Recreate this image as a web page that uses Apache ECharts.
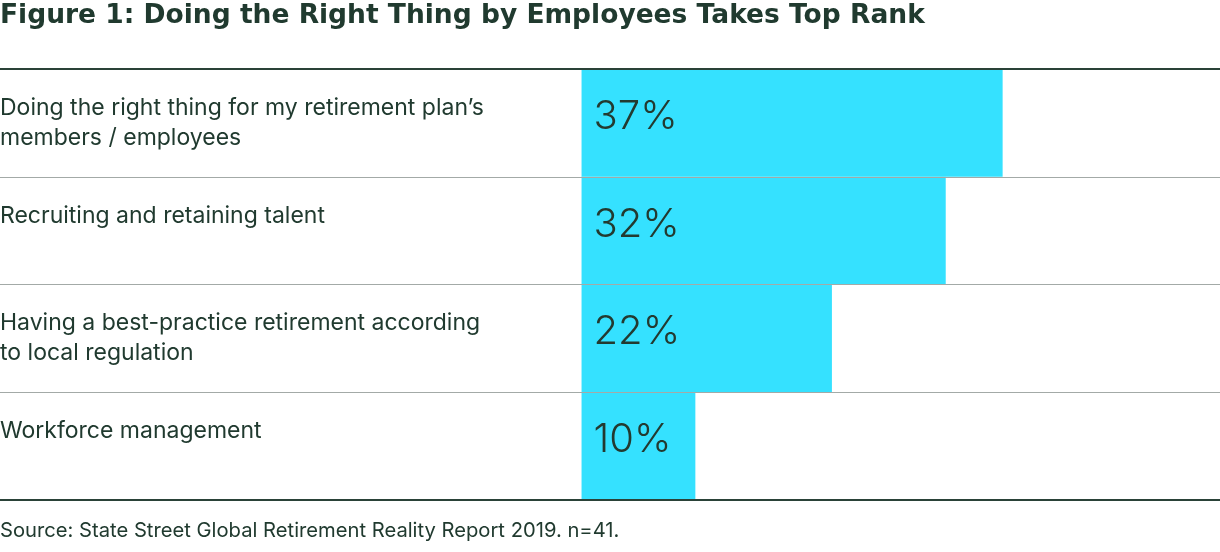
<!DOCTYPE html>
<html><head><meta charset="utf-8">
<script src="https://cdn.jsdelivr.net/npm/echarts@6/dist/echarts.min.js"></script>
<style>html,body{margin:0;padding:0;background:#fff}#c{width:1220px;height:552px}</style>
</head><body><div id="c"></div>
<script>
const categories = [
  "Doing the right thing for my retirement plan’s\nmembers / employees",
  "Recruiting and retaining talent",
  "Having a best-practice retirement according\nto local regulation",
  "Workforce management"
];
const values = [37, 32, 22, 10];
const titleText = "Figure 1: Doing the Right Thing by Employees Takes Top Rank";
const sourceText = "Source: State Street Global Retirement Reality Report 2019. n=41.";

const textColor = "#203a2f";
const chart = echarts.init(document.getElementById('c'), null, {renderer: 'canvas'});
chart.setOption({
  animation: false,
  title: [
    {text: titleText, left: -5, top: -2, textStyle: {fontFamily: 'DejaVu Sans', fontWeight: 'bold', fontSize: 26.5, color: textColor}},
    {text: sourceText, left: -5, top: 516, textStyle: {fontFamily: 'Inter', fontWeight: 'normal', fontSize: 20.2, color: textColor}}
  ],
  grid: {left: 0, right: 0, top: 69, bottom: 52, containLabel: false, outerBoundsMode: 'none'},
  xAxis: [
    {type: 'value', min: -51.1, max: 56.1, position: 'bottom',
     axisLine: {show: true, lineStyle: {color: '#2a4238', width: 2}},
     axisTick: {show: false}, axisLabel: {show: false}, splitLine: {show: false}},
    {type: 'value', min: -51.1, max: 56.1, position: 'top',
     axisLine: {show: true, lineStyle: {color: '#2a4238', width: 2}},
     axisTick: {show: false}, axisLabel: {show: false}, splitLine: {show: false}}
  ],
  yAxis: {
    type: 'category', inverse: true, data: categories,
    axisLine: {show: false}, axisTick: {show: false},
    splitLine: {show: true, lineStyle: {color: '#a3aaa7', width: 1}},
    axisLabel: {
      inside: true, margin: 0, align: 'left', verticalAlign: 'middle',
      fontFamily: 'Inter', fontSize: 23, lineHeight: 30, color: textColor,
      formatter: v => v.indexOf('\n') >= 0 ? v : v + '\n '
    }
  },
  series: [{
    type: 'bar', data: values, xAxisIndex: 0, barCategoryGap: 0, barWidth: '100%', z: -1,
    itemStyle: {color: '#35e1ff'},
    label: {show: true, position: 'insideLeft', offset: [7, -6], formatter: '{c}%',
      fontFamily: 'Inter', fontWeight: 300, fontSize: 40, color: '#233a30'}
  }]
});
</script></body></html>
